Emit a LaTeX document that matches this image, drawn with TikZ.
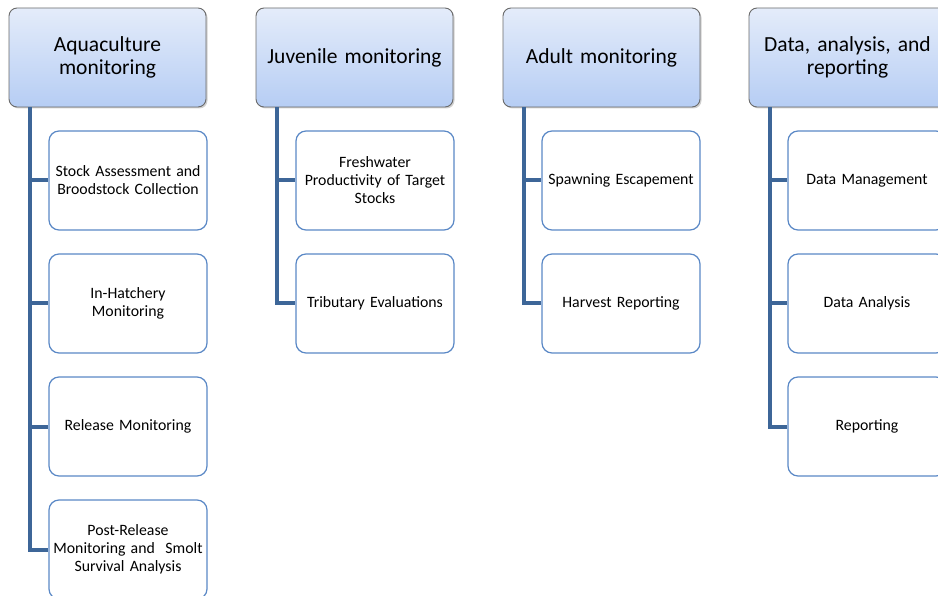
\documentclass[tikz,border=0pt]{standalone}
\usepackage{fontspec}
\setmainfont{Carlito}
\usetikzlibrary{shadows,calc}
\definecolor{conn}{HTML}{3D6698}
\definecolor{childborder}{HTML}{5A88C6}
\definecolor{hdtop}{HTML}{E4ECFA}
\definecolor{hdbot}{HTML}{B6CDF4}
\definecolor{hdborder}{HTML}{6A6A6A}
\tikzset{
  header/.style={draw=hdborder, line width=0.9pt, rounded corners=8pt,
    top color=hdtop, bottom color=hdbot, minimum width=197pt, minimum height=99pt,
    text width=194pt, align=center, font=\fontsize{21.5}{23.5}\selectfont, inner sep=0pt,
    drop shadow={shadow xshift=1.5pt, shadow yshift=-1.5pt, opacity=0.3, fill=black!60}},
  child/.style={draw=childborder, line width=1.2pt, rounded corners=10pt, fill=white,
    minimum width=158pt, minimum height=99pt, text width=156pt, align=center,
    font=\fontsize{15.8}{18}\selectfont, inner sep=0pt},
  connector/.style={draw=conn, line width=4pt}
}
\begin{document}
\begin{tikzpicture}[x=1pt,y=-1pt]
\useasboundingbox (0,0) rectangle (938,596);
% headers
\node[header] (h1) at (107.5,57.5) {Aquaculture\\monitoring};
\node[header] (h2) at (354.5,57.5) {Juvenile monitoring};
\node[header] (h3) at (601.5,57.5) {Adult monitoring};
\node[header] (h4) at (847.5,57.5) {Data, analysis, and\\reporting};
% children column 1
\node[child] (a1) at (128,180.5) {Stock Assessment and\\Broodstock Collection};
\node[child] (a2) at (128,303.5) {In-Hatchery\\Monitoring};
\node[child] (a3) at (128,426.5) {Release Monitoring};
\node[child] (a4) at (128,549.5) {Post-Release\\Monitoring and\ \ Smolt\\Survival Analysis};
% column 2
\node[child] (b1) at (375,180.5) {Freshwater\\Productivity of Target\\Stocks};
\node[child] (b2) at (375,303.5) {Tributary Evaluations};
% column 3
\node[child] (c1) at (621,180.5) {Spawning Escapement};
\node[child] (c2) at (621,303.5) {Harvest Reporting};
% column 4
\node[child] (d1) at (867,180.5) {Data Management};
\node[child] (d2) at (867,303.5) {Data Analysis};
\node[child] (d3) at (867,426.5) {Reporting};
% connectors
\coordinate (v1) at ($(h1.south west)+(21,0)$);
\coordinate (v2) at ($(h2.south west)+(21,0)$);
\coordinate (v3) at ($(h3.south west)+(21,0)$);
\coordinate (v4) at ($(h4.south west)+(21,0)$);
\draw[connector] (v1) |- (a4.west);
\draw[connector] (v1 |- a1.west) -- (a1.west);
\draw[connector] (v1 |- a2.west) -- (a2.west);
\draw[connector] (v1 |- a3.west) -- (a3.west);
\draw[connector] (v2) |- (b2.west);
\draw[connector] (v2 |- b1.west) -- (b1.west);
\draw[connector] (v3) |- (c2.west);
\draw[connector] (v3 |- c1.west) -- (c1.west);
\draw[connector] (v4) |- (d3.west);
\draw[connector] (v4 |- d1.west) -- (d1.west);
\draw[connector] (v4 |- d2.west) -- (d2.west);
\end{tikzpicture}
\end{document}
